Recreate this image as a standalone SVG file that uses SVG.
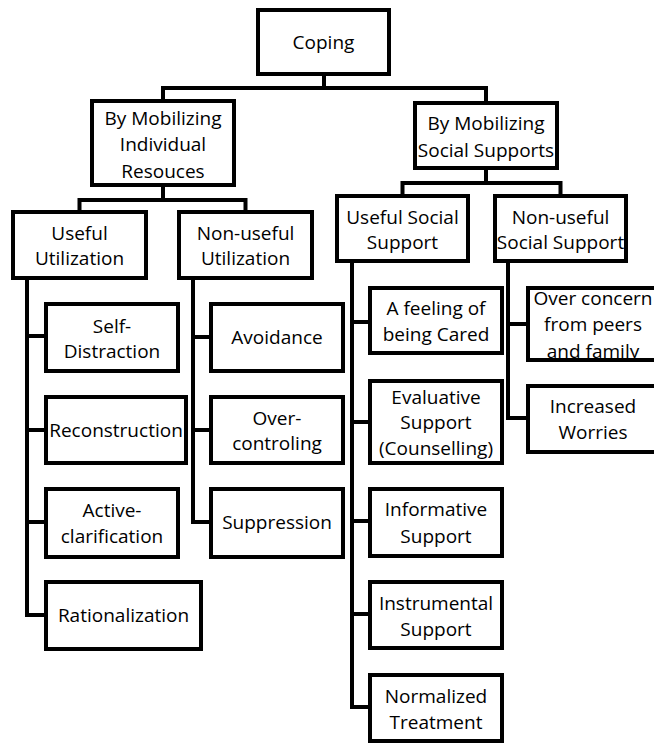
<svg xmlns="http://www.w3.org/2000/svg" width="654" height="743" viewBox="0 0 654 743">
<style>
.b{fill:#fff;stroke:#000;stroke-width:4}
.o{fill:none;stroke:#000;stroke-width:4}
text{font-family:"Open Sans","Liberation Sans",sans-serif;font-size:19px;fill:#000;text-anchor:middle}
#connectors path{fill:none;stroke:#000;stroke-width:4;stroke-linejoin:miter;stroke-linecap:square}
</style>
<rect width="654" height="743" fill="#fff"/>
<g id="connectors">
<path d="M324 75V88M163 101V88H486V103"/>
<path d="M163 185V200M79.5 212V200H245.5V212"/>
<path d="M486 168V183M402.5 196V183H560.5V196"/>
<path d="M27 278V615H46M27 336H46M27 430H46M27 522H46"/>
<path d="M193 278V522H211M193 337H211M193 430H211"/>
<path d="M352 261V707H370M352 322H370M352 422H370M352 521H370M352 614H370"/>
<path d="M508 261V418H528M508 324H528"/>
</g>
<g id="coping"><rect class="b" x="258" y="10" width="131" height="64"/><text x="323.5" y="49">Coping</text></g>
<g id="individual"><rect class="b" x="92" y="101" width="142" height="84"/><text x="163" y="125">By Mobilizing</text><text x="163" y="151">Individual</text><text x="163" y="178">Resouces</text></g>
<g id="social"><rect class="b" x="415" y="103" width="142" height="65"/><text x="486" y="130">By Mobilizing</text><text x="486" y="157">Social Supports</text></g>
<g id="useful-util"><rect class="b" x="13" y="212" width="133" height="66"/><text x="79.5" y="240">Useful</text><text x="79.5" y="265">Utilization</text></g>
<g id="nonuseful-util"><rect class="b" x="179" y="212" width="133" height="66"/><text x="245.5" y="240">Non-useful</text><text x="245.5" y="265">Utilization</text></g>
<g id="self-distraction"><rect class="b" x="46" y="304" width="132" height="67"/><text x="112" y="333">Self-</text><text x="112" y="358">Distraction</text></g>
<g id="reconstruction"><rect class="b" x="46" y="397" width="140" height="66"/><text x="116" y="437">Reconstruction</text></g>
<g id="active"><rect class="b" x="46" y="489" width="132" height="68"/><text x="112" y="517">Active-</text><text x="112" y="543">clarification</text></g>
<g id="rationalization"><rect class="b" x="46" y="582" width="155" height="67"/><text x="123.5" y="622">Rationalization</text></g>
<g id="avoidance"><rect class="b" x="211" y="304" width="132" height="67"/><text x="277" y="344">Avoidance</text></g>
<g id="overcontrol"><rect class="b" x="211" y="397" width="132" height="66"/><text x="277" y="425">Over-</text><text x="277" y="450">controling</text></g>
<g id="suppression"><rect class="b" x="211" y="489" width="132" height="68"/><text x="277" y="529">Suppression</text></g>
<g id="useful-social"><rect class="b" x="337" y="196" width="131" height="65"/><text x="402.5" y="224">Useful Social</text><text x="402.5" y="249">Support</text></g>
<g id="nonuseful-social"><rect class="b" x="495" y="196" width="131" height="65"/><text x="560.5" y="224">Non-useful</text><text x="560.5" y="249">Social Support</text></g>
<g id="cared"><rect class="b" x="370" y="288" width="132" height="65"/><text x="436" y="315">A feeling of</text><text x="436" y="341">being Cared</text></g>
<g id="evaluative"><rect class="b" x="370" y="381" width="132" height="82"/><text x="436" y="404">Evaluative</text><text x="436" y="429">Support</text><text x="436" y="455">(Counselling)</text></g>
<g id="informative"><rect class="b" x="370" y="489" width="132" height="67"/><text x="436" y="516">Informative</text><text x="436" y="543">Support</text></g>
<g id="instrumental"><rect class="b" x="370" y="582" width="132" height="66"/><text x="436" y="610">Instrumental</text><text x="436" y="636">Support</text></g>
<g id="normalized"><rect class="b" x="370" y="675" width="132" height="66"/><text x="436" y="703">Normalized</text><text x="436" y="729">Treatment</text></g>
<g id="overconcern"><rect class="b" x="528" y="288" width="140" height="72"/><text x="593" y="305">Over concern</text><text x="593" y="331">from peers</text><text x="593" y="358">and family</text><rect class="o" x="528" y="288" width="140" height="72"/></g>
<g id="increased"><rect class="b" x="528" y="386" width="140" height="66"/><text x="593" y="413">Increased</text><text x="593" y="439">Worries</text></g>
</svg>
